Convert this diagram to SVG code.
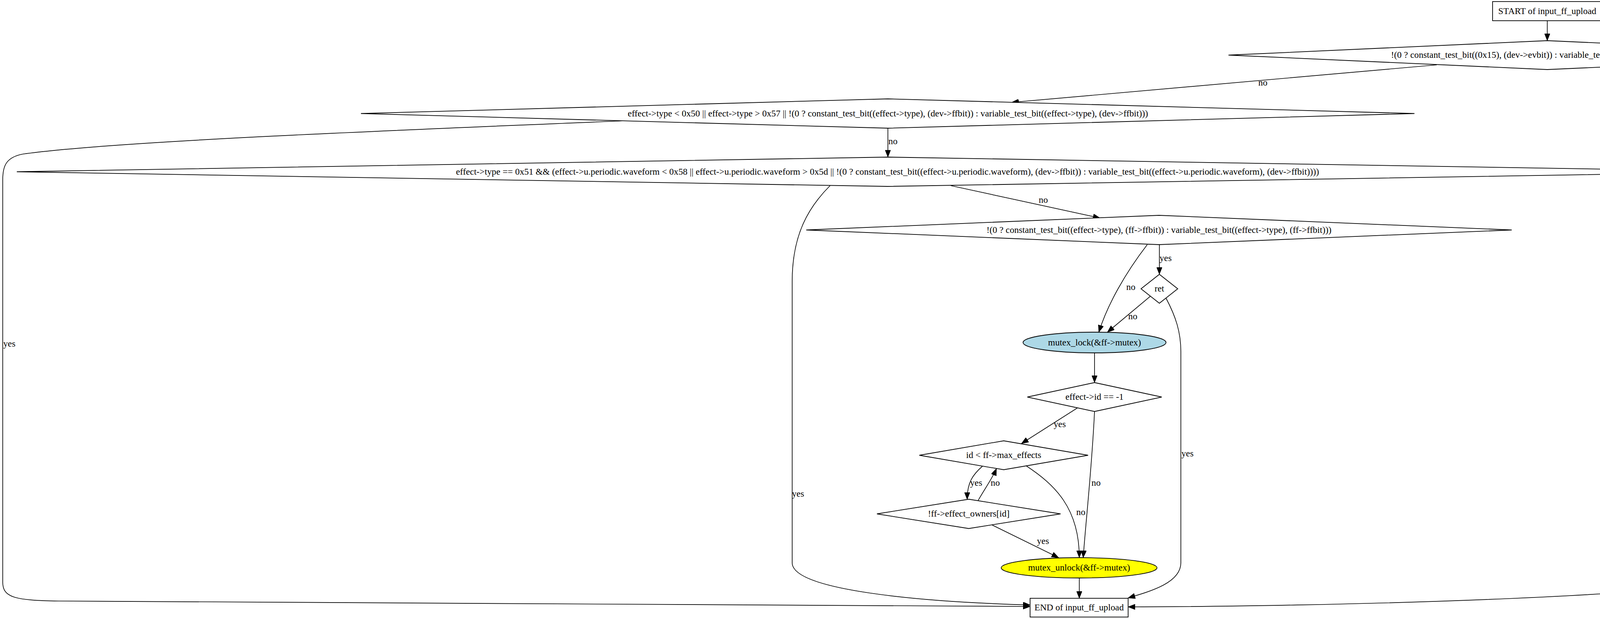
<svg xmlns="http://www.w3.org/2000/svg" width="4781" height="1584" viewBox="0 0 4781 1584">
<style>
.n{fill:#ffffff;stroke:#000000;stroke-width:1.8}
.t{font-family:"Liberation Serif","Times New Roman",serif;font-size:23.3px;fill:#000000;text-anchor:middle}
.e{fill:none;stroke:#000000;stroke-width:1.7}
.l{font-family:"Liberation Serif","Times New Roman",serif;font-size:23.3px;fill:#000000;text-anchor:middle}
</style>
<defs>
<marker id="ah" markerUnits="userSpaceOnUse" markerWidth="19" markerHeight="14" refX="18" refY="7" orient="auto"><path d="M0,0 L18,7 L0,14 z" fill="#000000" stroke="#000000" stroke-width="1"/></marker>
</defs>
<rect width="4781" height="1584" fill="#ffffff"/>
<g id="connectors">
<path class="e" marker-end="url(#ah)" d="M3961,53 L3961,104"/>
<path class="e" marker-end="url(#ah)" d="M3678,166 L2590,262"/>
<text class="l" x="3233" y="219">no</text>
<path class="e" marker-end="url(#ah)" d="M4244,165 C4400,210 4541,250 4541,320 L4541,1450 C4541,1530 3300,1553 2888,1553"/>
<text class="l" x="4521" y="881">yes</text>
<path class="e" marker-end="url(#ah)" d="M2273,328 L2273,402"/>
<text class="l" x="2286" y="369">no</text>
<path class="e" marker-end="url(#ah)" d="M1600,309 C1100,330 300,360 60,394 C15,402 7,425 7,460 L7,1490 C7,1530 40,1536 150,1538 L2637,1552"/>
<text class="l" x="24" y="887">yes</text>
<path class="e" marker-end="url(#ah)" d="M2434,475 L2816,558"/>
<text class="l" x="2671" y="519">no</text>
<path class="e" marker-end="url(#ah)" d="M2125,475 C2070,530 2028,600 2028,720 L2028,1440 C2028,1510 2350,1540 2637,1548"/>
<text class="l" x="2043" y="1271">yes</text>
<path class="e" marker-end="url(#ah)" d="M2968,626 L2968,702"/>
<text class="l" x="2984" y="668">yes</text>
<path class="e" marker-end="url(#ah)" d="M2937,626 C2880,700 2835,780 2813,850"/>
<text class="l" x="2895" y="742">no</text>
<path class="e" marker-end="url(#ah)" d="M2945,758 L2835,850"/>
<text class="l" x="2900" y="817">no</text>
<path class="e" marker-end="url(#ah)" d="M2985,763 C3010,810 3023,850 3023,900 L3023,1440 C3023,1490 2950,1512 2888,1530"/>
<text class="l" x="3040" y="1168">yes</text>
<path class="e" marker-end="url(#ah)" d="M2802,903 L2802,979"/>
<path class="e" marker-end="url(#ah)" d="M2758,1044 L2615,1135"/>
<text class="l" x="2713" y="1093">yes</text>
<path class="e" marker-end="url(#ah)" d="M2802,1053 C2795,1200 2780,1330 2773,1427"/>
<text class="l" x="2806" y="1243">no</text>
<path class="e" marker-end="url(#ah)" d="M2515,1193 C2490,1215 2476,1235 2476,1278"/>
<text class="l" x="2499" y="1243">yes</text>
<path class="e" marker-end="url(#ah)" d="M2504,1281 C2515,1260 2540,1225 2551,1199"/>
<text class="l" x="2548" y="1243">no</text>
<path class="e" marker-end="url(#ah)" d="M2627,1192 C2700,1240 2763,1300 2763,1427"/>
<text class="l" x="2767" y="1318">no</text>
<path class="e" marker-end="url(#ah)" d="M2539,1343 L2710,1427"/>
<text class="l" x="2670" y="1392">yes</text>
<path class="e" marker-end="url(#ah)" d="M2763,1479 L2763,1531"/>
</g>
<g id="start">
<rect class="n" x="3821" y="4" width="281" height="49"/>
<text class="t" x="3961" y="36">START of input_ff_upload</text>
</g>
<g id="cond1">
<polygon class="n" points="3961,104 4777,141 3961,178 3145,141"/>
<text class="t" x="3961" y="148">!(0 ? constant_test_bit((0x15), (dev-&gt;evbit)) : variable_test_bit((0x15), (dev-&gt;evbit)))</text>
</g>
<g id="cond2">
<polygon class="n" points="2273,253 3621,290.5 2273,328 924,290.5"/>
<text class="t" x="2273" y="297.5">effect-&gt;type &lt; 0x50 || effect-&gt;type &gt; 0x57 || !(0 ? constant_test_bit((effect-&gt;type), (dev-&gt;ffbit)) : variable_test_bit((effect-&gt;type), (dev-&gt;ffbit)))</text>
</g>
<g id="cond3">
<polygon class="n" points="2272,402 4501,439.5 2272,477 43,439.5"/>
<text class="t" x="2272" y="446.5">effect-&gt;type == 0x51 &amp;&amp; (effect-&gt;u.periodic.waveform &lt; 0x58 || effect-&gt;u.periodic.waveform &gt; 0x5d || !(0 ? constant_test_bit((effect-&gt;u.periodic.waveform), (dev-&gt;ffbit)) : variable_test_bit((effect-&gt;u.periodic.waveform), (dev-&gt;ffbit))))</text>
</g>
<g id="cond4">
<polygon class="n" points="2967,551 3870,588.5 2967,626 2064,588.5"/>
<text class="t" x="2967" y="595.5">!(0 ? constant_test_bit((effect-&gt;type), (ff-&gt;ffbit)) : variable_test_bit((effect-&gt;type), (ff-&gt;ffbit)))</text>
</g>
<g id="ret">
<polygon class="n" points="2968,702 3015,739 2968,776 2921,739"/>
<text class="t" x="2968" y="746">ret</text>
</g>
<g id="mutex_lock">
<ellipse cx="2802" cy="876.5" rx="183" ry="26.5" fill="#add8e6" stroke="#000000" stroke-width="1.8"/>
<text class="t" x="2802" y="883.5">mutex_lock(&amp;ff-&gt;mutex)</text>
</g>
<g id="cond_id">
<polygon class="n" points="2802,979 2974,1016 2802,1053 2630,1016"/>
<text class="t" x="2802" y="1023">effect-&gt;id == -1</text>
</g>
<g id="cond_max">
<polygon class="n" points="2569.5,1128 2785.5,1165 2569.5,1202 2353.5,1165"/>
<text class="t" x="2569.5" y="1172">id &lt; ff-&gt;max_effects</text>
</g>
<g id="cond_owner">
<polygon class="n" points="2480,1277.5 2715,1315 2480,1352.5 2245,1315"/>
<text class="t" x="2480" y="1322">!ff-&gt;effect_owners[id]</text>
</g>
<g id="mutex_unlock">
<ellipse cx="2762.5" cy="1453" rx="199.5" ry="26" fill="#ffff00" stroke="#000000" stroke-width="1.8"/>
<text class="t" x="2762.5" y="1460">mutex_unlock(&amp;ff-&gt;mutex)</text>
</g>
<g id="end">
<rect class="n" x="2637" y="1531" width="251" height="48"/>
<text class="t" x="2762.5" y="1562">END of input_ff_upload</text>
</g>
</svg>
